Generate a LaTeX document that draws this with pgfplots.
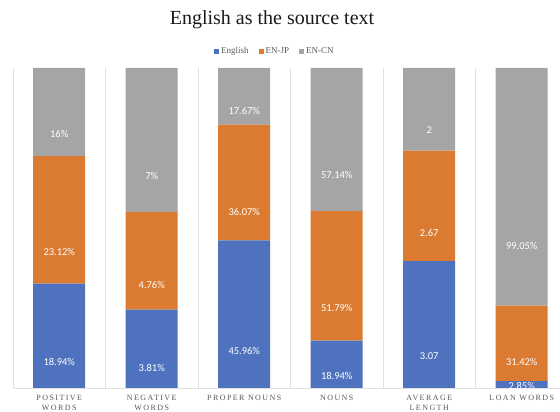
\documentclass[border=0pt]{standalone}
\usepackage{fontspec}
\setmainfont{Liberation Serif}
\newfontfamily\calib{Carlito}
\newfontfamily\tickfont[LetterSpace=18]{Liberation Serif}
\usepackage{pgfplots}
\pgfplotsset{compat=1.18}
\usepackage{pgfplotstable}
\definecolor{cblue}{HTML}{4F72BE}
\definecolor{corange}{HTML}{DA7B31}
\definecolor{cgray}{HTML}{A5A5A5}
\definecolor{txtgray}{HTML}{595959}
\definecolor{gridgray}{HTML}{E0E0E0}

% values normalised to 100% per category; labels are the raw values
\pgfplotstableread{
x Eng JP CN EngL JPL CNL
0 32.62 39.82 27.56 18.94\% 23.12\% 16\%
1 24.47 30.57 44.96 3.81\% 4.76\% 7\%
2 46.10 36.18 17.72 45.96\% 36.07\% 17.67\%
3 14.81 40.50 44.69 18.94\% 51.79\% 57.14\%
4 39.66 34.50 25.84 3.07 2.67 2
5 2.14 23.57 74.29 2.85\% 31.42\% 99.05\%
}\datatable

\begin{document}
\begin{tikzpicture}
\useasboundingbox (0,0) rectangle (560pt,412pt);
\node[font=\fontsize{20}{24}\selectfont, text=black!90] at (272pt,392pt) {English as the source text};
\begin{axis}[
  at={(13pt,24pt)}, anchor=south west,
  scale only axis, width=555pt, height=320pt,
  ybar stacked, bar width=52pt,
  xmin=-0.5, xmax=5.5, ymin=0, ymax=100,
  axis y line=none, axis x line*=bottom,
  x axis line style={draw=gridgray, line width=0.8pt, -},
  xtick={0,...,5},
  xticklabels={POSITIVE\\WORDS, NEGATIVE\\WORDS, PROPER NOUNS, NOUNS, AVERAGE\\LENGTH, LOAN WORDS},
  minor xtick={-0.5,0.5,...,4.5},
  xminorgrids, minor grid style={draw=gridgray, line width=0.8pt},
  major tick length=0pt, minor tick length=0pt,
  xticklabel style={align=center, font=\tickfont\fontsize{8}{9.6}\selectfont, text=txtgray, yshift=-4pt},
  legend style={at={(0.472,1.053)}, anchor=center, draw=none, fill=none,
    legend columns=3, font=\fontsize{9}{10}\selectfont, text=txtgray,
    /tikz/every even column/.append style={column sep=8pt}},
  legend image code/.code={\fill[#1] (0pt,-2.5pt) rectangle (5pt,2.5pt);},
  point meta=explicit symbolic,
  nodes near coords,
  every node near coord/.append style={anchor=center, yshift={-0.8*\rawy},
    font=\calib\fontsize{10.5}{12}\selectfont, text=white},
]
\addplot[fill=cblue, draw=none, visualization depends on={\thisrow{Eng} \as \rawy}]
  table[x=x, y=Eng, meta=EngL] {\datatable};
\addplot[fill=corange, draw=none, visualization depends on={\thisrow{JP} \as \rawy}]
  table[x=x, y=JP, meta=JPL] {\datatable};
\addplot[fill=cgray, draw=none, visualization depends on={\thisrow{CN} \as \rawy}]
  table[x=x, y=CN, meta=CNL] {\datatable};
\legend{English, EN-JP, EN-CN}
\end{axis}
\end{tikzpicture}
\end{document}
